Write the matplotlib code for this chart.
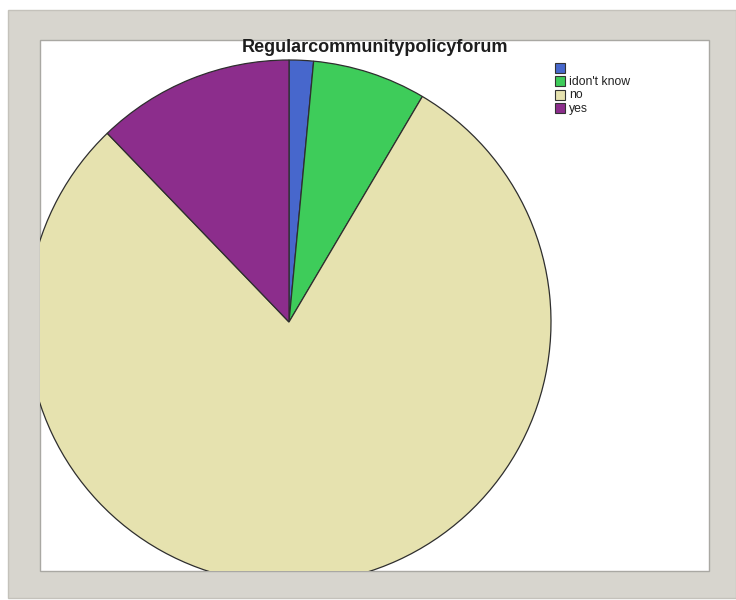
import matplotlib
matplotlib.use("Agg")
import matplotlib.pyplot as plt
from matplotlib.patches import Rectangle

# Survey answers for "Regular community policy forum" (percent of responses)
categories = ["", "idon't know", "no", "yes"]
shares = [1.5, 7.0, 79.3, 12.2]
colors = ["#4767cc", "#3ecc5a", "#e6e2af", "#8c2d8c"]
title = "Regularcommunitypolicyforum"

W, H = 736, 600
fig = plt.figure(figsize=(W / 100, H / 100), dpi=100)
fig.patch.set_facecolor("white")


def px_rect(x0, y0, x1, y1):
    """Rectangle in figure fraction from top-left pixel coordinates."""
    return (x0 / W, 1 - y1 / H, (x1 - x0) / W, (y1 - y0) / H)


# Grey picture frame
fx, fy, fw, fh = px_rect(8, 10, 736, 598)
fig.patches.append(Rectangle((fx, fy), fw, fh, transform=fig.transFigure,
                             facecolor="#d7d5ce", edgecolor="#c4c2bb",
                             linewidth=1.0, zorder=0))
# Inner white panel
ix, iy, iw, ih = px_rect(40, 40, 709, 571)
fig.patches.append(Rectangle((ix, iy), iw, ih, transform=fig.transFigure,
                             facecolor="white", edgecolor="#a9a8a3",
                             linewidth=1.0, zorder=0.5))

# Axes spanning the white panel, data units equal to pixels
ax = fig.add_axes([ix, iy, iw, ih])
ax.set_zorder(1)
ax.set_facecolor("none")
wedges, _ = ax.pie(shares, colors=colors, startangle=90, counterclock=False,
                   center=(289, H - 322), radius=262,
                   wedgeprops=dict(edgecolor="#2e2e2e", linewidth=0.9))
for w in wedges:
    w.set_clip_on(True)
    w.set_clip_box(ax.bbox)
ax.set_aspect("auto")
ax.set_xlim(40, 709)
ax.set_ylim(H - 571, H - 40)
ax.axis("off")

# Title
fig.text(375 / W, 1 - 47 / H, title, ha="center", va="center",
         fontsize=13, fontweight="bold", color="#1e1e1e",
         family="Liberation Sans", zorder=5)

# Legend
lx, ly0, step, box = 555, 63, 13.4, 10
for i, (lab, col) in enumerate(zip(categories, colors)):
    y = ly0 + i * step
    bx, by, bw, bh = px_rect(lx, y, lx + box, y + box)
    fig.patches.append(Rectangle((bx, by), bw, bh, transform=fig.transFigure,
                                 facecolor=col, edgecolor="#333333",
                                 linewidth=0.8, zorder=3))
    fig.text((lx + 14) / W, 1 - (y + box / 2 + 0.5) / H, lab, ha="left",
             va="center", fontsize=8.8, color="#222222",
             family="Liberation Sans")

fig.savefig("out.png", dpi=100, facecolor=fig.get_facecolor())
